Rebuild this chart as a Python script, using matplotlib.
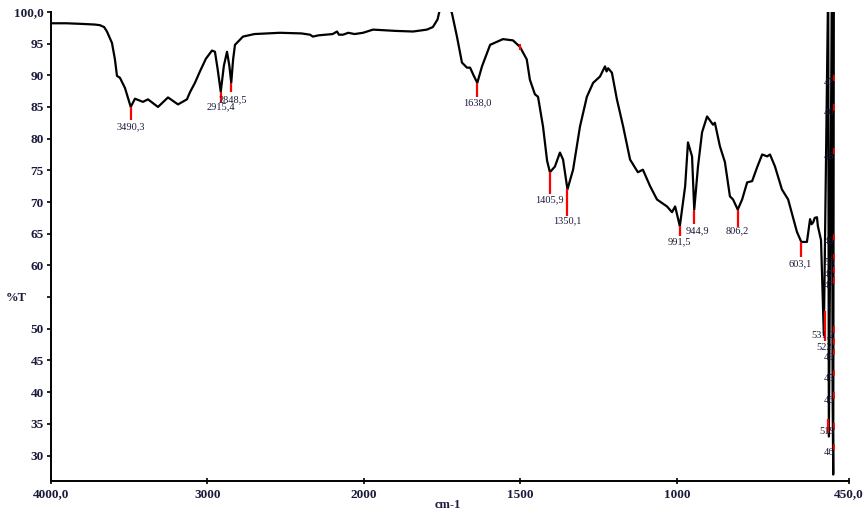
import numpy as np
import matplotlib
matplotlib.use("Agg")
import matplotlib.pyplot as plt

# FTIR spectrum (cm-1, %T)
wavenumber = [4000, 3900, 3800, 3720, 3687, 3660, 3642, 3610, 3591, 3578, 3559, 3527, 3490,
              3463, 3412, 3380, 3316, 3252, 3188, 3131, 3112, 3080, 3048, 3010, 2971, 2952,
              2935, 2915, 2895, 2875, 2860, 2848, 2836, 2824, 2773, 2700, 2537, 2400, 2345,
              2326, 2290, 2200, 2172, 2160, 2134, 2100, 2060, 2006, 1971, 1900, 1843,
              1799, 1780, 1765, 1757, 1740, 1725, 1719, 1703, 1687, 1671, 1661, 1650,
              1638, 1623, 1597, 1556, 1524, 1502, 1480, 1470, 1454, 1444, 1428, 1415,
              1406, 1390, 1374, 1364, 1350, 1332, 1310, 1288, 1268, 1246, 1230, 1225,
              1220, 1208, 1192, 1172, 1150, 1125, 1109, 1086, 1064, 1032, 1016, 1006,
              991, 974, 965, 952, 945, 933, 920, 904, 885, 879, 863, 847, 831, 821, 806,
              792, 776, 760, 744, 728, 712, 703, 687, 665, 645, 617, 603, 585, 575, 570,
              565, 560, 553, 550, 540, 531, 517, 515, 505, 503, 501, 499]
transmittance = [98.2, 98.2, 98.1, 98.0, 97.9, 97.6, 96.9, 95.1, 92.5, 89.9, 89.6, 88.0, 85.0,
                 86.3, 85.8, 86.2, 85.0, 86.5, 85.4, 86.2, 87.3, 88.8, 90.6, 92.6, 93.9, 93.7,
                 91.0, 87.4, 91.5, 93.7, 91.5, 88.8, 92.5, 94.8, 96.1, 96.5, 96.7, 96.6, 96.4,
                 96.1, 96.3, 96.5, 96.9, 96.4, 96.4, 96.7, 96.5, 96.7, 97.2, 97.0, 96.9,
                 97.2, 97.6, 98.8, 100.5, 102.0, 100.5, 99.8, 96.1, 92.0, 91.2, 91.2, 90.0,
                 88.8, 91.4, 94.8, 95.7, 95.5, 94.5, 92.5, 89.3, 87.0, 86.6, 81.9, 76.5,
                 74.7, 75.6, 77.8, 76.7, 72.0, 75.1, 81.9, 86.6, 88.8, 89.8, 91.4, 90.6,
                 91.1, 90.4, 86.2, 81.9, 76.7, 74.7, 75.1, 72.5, 70.4, 69.3, 68.4, 69.3,
                 66.2, 72.5, 79.4, 77.2, 68.8, 75.6, 81.0, 83.5, 82.2, 82.5, 78.8, 76.3, 70.9,
                 70.4, 68.8, 70.4, 73.1, 73.3, 75.5, 77.5, 77.2, 77.5, 75.6, 72.0, 70.4,
                 65.3, 63.7, 63.7, 67.3, 66.5, 66.8, 67.5, 67.6, 66.2, 64.0, 49.0, 105.0,
                 33.0, 105.0, 40.0, 27.0, 105.0]

# labelled peaks: position, %T at curve, %T at end of red mark, label, label %T
peak_pos = [3490.3, 2915.4, 2848.5, 1638.0, 1405.9, 1350.1, 991.5, 944.9, 806.2, 603.1]
peak_top = [85.0, 87.4, 88.8, 88.8, 74.7, 72.0, 66.2, 68.8, 68.8, 63.7]
peak_bot = [83.0, 85.8, 87.3, 86.6, 71.2, 67.8, 64.6, 66.5, 66.0, 61.3]
peak_txt = ["3490,3", "2915,4", "2848,5", "1638,0", "1405,9", "1350,1", "991,5", "944,9", "806,2", "603,1"]
peak_lab_y = [81.8, 85.1, 86.2, 85.7, 70.4, 67.0, 63.7, 65.4, 65.4, 60.2]
peak_lab_x = [3490.3, 2915.4, 2840.0, 1638.0, 1405.9, 1350.1, 991.5, 935.0, 806.2, 606.0]

# crowded labels at the low end (half hidden by the trace)
crowd_txt = ["47", "46", "48", "49", "53", "47", "47", "531,2", "522,", "49", "45", "46", "519", "46"]
crowd_y = [88.8, 84.1, 77.2, 63.7, 60.5, 58.5, 56.8, 49.1, 47.2, 45.5, 42.2, 38.7, 33.8, 30.5]


def fwd(w):
    w = np.asarray(w, dtype=float)
    return np.where(w >= 2000, w, 2 * w - 2000)


def inv(u):
    u = np.asarray(u, dtype=float)
    return np.where(u >= 2000, u, (u + 2000) / 2)


def main():
    plt.rcParams['font.family'] = ['Liberation Serif', 'DejaVu Serif']
    fig = plt.figure(figsize=(8.63, 5.16), dpi=100)
    ax = fig.add_axes([0.059, 0.068, 0.925, 0.909])
    ax.set_xscale('function', functions=(fwd, inv))

    ax.plot(wavenumber, transmittance, color='black', lw=1.6)

    ax.vlines(peak_pos, peak_bot, peak_top, color='red', lw=1.6)
    for x, y, t in zip(peak_lab_x, peak_lab_y, peak_txt):
        ax.text(x, y, t, fontsize=7.5, ha='center', va='center', color='#1a1a3a')

    ax.vlines([1500], [94.0], [95.0], color='red', lw=1.5)
    ax.vlines([527, 517], [48.1, 33.5], [52.8, 35.8], color='red', lw=1.6)
    ax.vlines([499] * len(crowd_y), np.array(crowd_y) + 0.3, np.array(crowd_y) + 1.3,
              color='red', lw=1.2)
    for y, t in zip(crowd_y, crowd_txt):
        ax.text(497, y, t, fontsize=7.5, ha='right', va='center', color='#1a1a3a', zorder=5)

    ax.set_xlim(4000, 450)
    ax.set_ylim(26, 100)

    ax.set_xticks([4000, 3000, 2000, 1500, 1000, 450])
    ax.set_xticklabels(["4000,0", "3000", "2000", "1500", "1000", "450,0"])
    yt = [30, 35, 40, 45, 50, 55, 60, 65, 70, 75, 80, 85, 90, 95, 100]
    ax.set_yticks(yt)
    ylabs = [str(v) for v in yt[:-1]] + ["100,0"]
    ylabs[5] = ""  # the %T title sits where 55 would be
    ax.set_yticklabels(ylabs)

    for s in ['top', 'right']:
        ax.spines[s].set_visible(False)
    for s in ['left', 'bottom']:
        ax.spines[s].set_linewidth(1.4)
    ax.tick_params(axis='x', direction='inout', length=5, width=1.2, labelsize=9.5,
                   labelcolor='#1a1a3a', pad=3)
    ax.tick_params(axis='y', direction='out', length=3, width=1.2, labelsize=9.5,
                   labelcolor='#1a1a3a', pad=2)
    for lab in ax.get_xticklabels() + ax.get_yticklabels():
        lab.set_fontweight('bold')

    fig.text(0.007, 0.422, "%T", fontsize=9, fontweight='bold', color='#1a1a3a', va='center')
    fig.text(0.519, 0.016, "cm-1", fontsize=9, fontweight='bold', color='#1a1a3a', ha='center')

    fig.savefig("out.png", dpi=100)


if __name__ == '__main__':
    main()
